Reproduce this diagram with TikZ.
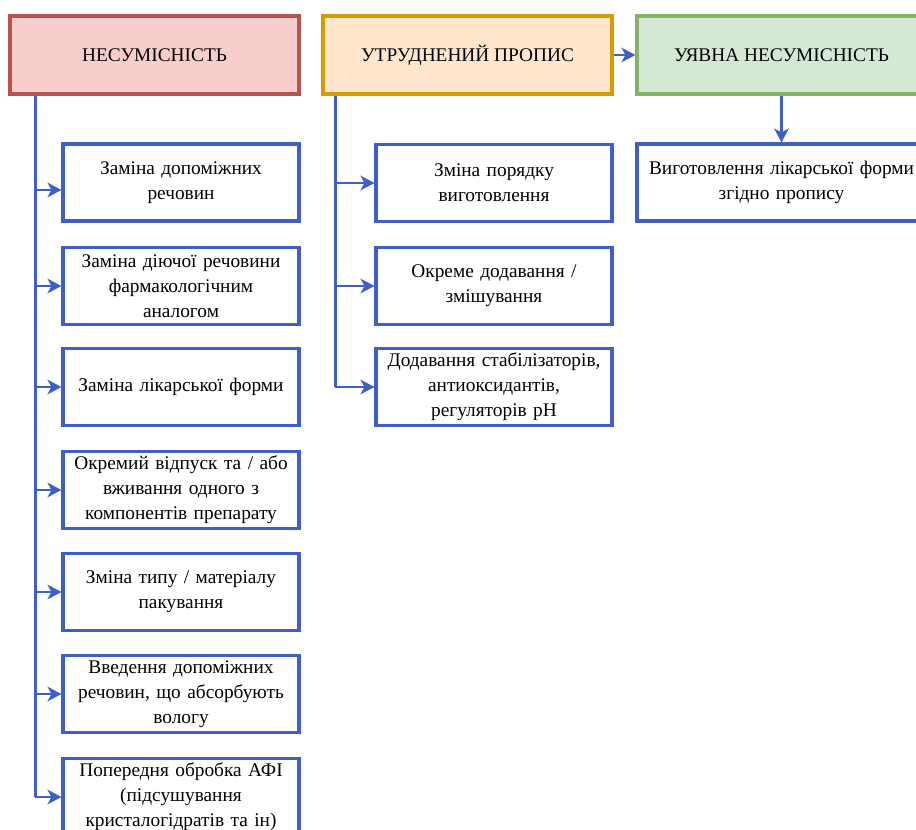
\documentclass[tikz,border=0pt]{standalone}
\usepackage{fontspec}
\setmainfont{Liberation Serif}
\usetikzlibrary{arrows.meta}
\definecolor{bblue}{HTML}{3F5FC6}
\definecolor{redb}{HTML}{B85450}
\definecolor{redf}{HTML}{F8CECC}
\definecolor{orab}{HTML}{D79B00}
\definecolor{oraf}{HTML}{FFE6CC}
\definecolor{grnb}{HTML}{82B366}
\definecolor{grnf}{HTML}{D5E8D4}
\tikzset{
  head/.style={draw, line width=2.3pt, rectangle, minimum width=216.75pt, minimum height=58.5pt, font=\fontsize{14.5}{18.75}\selectfont, inner sep=0pt},
  sub/.style={draw=bblue, fill=white, line width=2.3pt, rectangle, minimum width=177pt, minimum height=57.75pt, text width=171pt, align=center, font=\fontsize{14.5}{18.75}\selectfont, inner sep=0pt},
  wide/.style={sub, minimum width=216.75pt, text width=213pt},
  conn/.style={draw=bblue, line width=1.8pt, -{Stealth[length=10.5pt,width=11pt,inset=3pt]}},
  trunk/.style={draw=bblue, line width=1.8pt}
}
\begin{document}
\begin{tikzpicture}[x=0.75pt,y=-0.75pt]
\useasboundingbox (0,0) rectangle (916,830);
\clip (0,0) rectangle (916,830);
\node[head, draw=redb, fill=redf] (H) at (154.5,55) {НЕСУМІСНІСТЬ};
\node[head, draw=orab, fill=oraf] (U) at (467.5,55) {УТРУДНЕНИЙ ПРОПИС};
\node[head, draw=grnb, fill=grnf] (Y) at (781.5,55) {УЯВНА НЕСУМІСНІСТЬ};

\node[sub] (L1) at (181,182.5) {Заміна допоміжних\\речовин};
\node[sub] (L2) at (181,286) {Заміна діючої речовини\\фармакологічним\\аналогом};
\node[sub] (L3) at (181,387) {Заміна лікарської форми};
\node[sub] (L4) at (181,490) {Окремий відпуск та / або\\вживання одного з\\компонентів препарату};
\node[sub] (L5) at (181,592) {Зміна типу / матеріалу\\пакування};
\node[sub] (L6) at (181,694) {Введення допоміжних\\речовин, що абсорбують\\вологу};
\node[sub] (L7) at (181,797) {Попередня обробка АФІ\\(підсушування\\кристалогідратів та ін)};

\node[sub] (M1) at (494,183) {Зміна порядку\\виготовлення};
\node[sub] (M2) at (494,286) {Окреме додавання /\\змішування};
\node[sub] (M3) at (494,387) {Додавання стабілізаторів,\\антиоксидантів,\\регуляторів pH};

\node[wide] (R1) at (781.5,182.5) {Виготовлення лікарської форми\\згідно пропису};

\coordinate (ht) at ([xshift=20.25pt]H.south west);
\coordinate (ut) at ([xshift=10.5pt]U.south west);
\coordinate (l1in) at ([yshift=-5.6pt]L1.west);

\draw[trunk] (ht) -- (ht |- L7.west);
\foreach \n in {L2,L3,L4,L5,L6,L7} \draw[conn] (ht |- \n.west) -- (\n.west);
\draw[conn] (ht |- l1in) -- (l1in);

\draw[trunk] (ut) -- (ut |- M3.west);
\foreach \n in {M1,M2,M3} \draw[conn] (ut |- \n.west) -- (\n.west);

\draw[conn] (U.east) -- (Y.west);
\draw[conn] (Y.south) -- (R1.north);
\end{tikzpicture}
\end{document}
